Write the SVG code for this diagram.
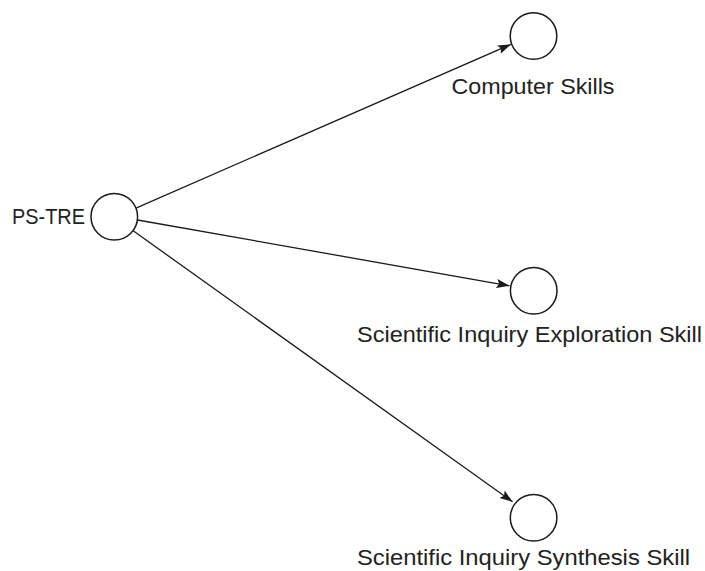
<svg xmlns="http://www.w3.org/2000/svg" width="705" height="571" viewBox="0 0 705 571">
<style>
.node{fill:#fff;stroke:#1a1a1a;stroke-width:1.5}
.lbl{font-family:"Liberation Sans",Arial,sans-serif;font-size:22px;fill:#222}
.edge{stroke:#1a1a1a;stroke-width:1.3;fill:none;marker-end:url(#arr)}
</style>
<defs>
<marker id="arr" markerUnits="userSpaceOnUse" markerWidth="14" markerHeight="10" refX="13" refY="5" orient="auto">
<path d="M0,0.5 L13,5 L0,9.5 L2.5,5 Z" fill="#1a1a1a"/>
</marker>
</defs>
<rect width="705" height="571" fill="#fff"/>
<g id="edges">
<line class="edge" x1="136.5" y1="207.8" x2="510.8" y2="44.4"/>
<line class="edge" x1="137.5" y1="220" x2="509.5" y2="285.8"/>
<line class="edge" x1="133.2" y1="230.8" x2="512.6" y2="501.8"/>
</g>
<g id="n-pstre">
<circle class="node" cx="114.3" cy="216.7" r="23.3"/>
<text class="lbl" x="12" y="224" textLength="73" lengthAdjust="spacingAndGlyphs">PS-TRE</text>
</g>
<g id="n-computer">
<circle class="node" cx="533.5" cy="36" r="23.3"/>
<text class="lbl" x="451.5" y="93.5" textLength="163" lengthAdjust="spacingAndGlyphs">Computer Skills</text>
</g>
<g id="n-exploration">
<circle class="node" cx="533.7" cy="290.8" r="23.3"/>
<text class="lbl" x="357" y="341.5" textLength="345" lengthAdjust="spacingAndGlyphs">Scientific Inquiry Exploration Skill</text>
</g>
<g id="n-synthesis">
<circle class="node" cx="533.6" cy="517.8" r="23.3"/>
<text class="lbl" x="357" y="565" textLength="333" lengthAdjust="spacingAndGlyphs">Scientific Inquiry Synthesis Skill</text>
</g>
</svg>
